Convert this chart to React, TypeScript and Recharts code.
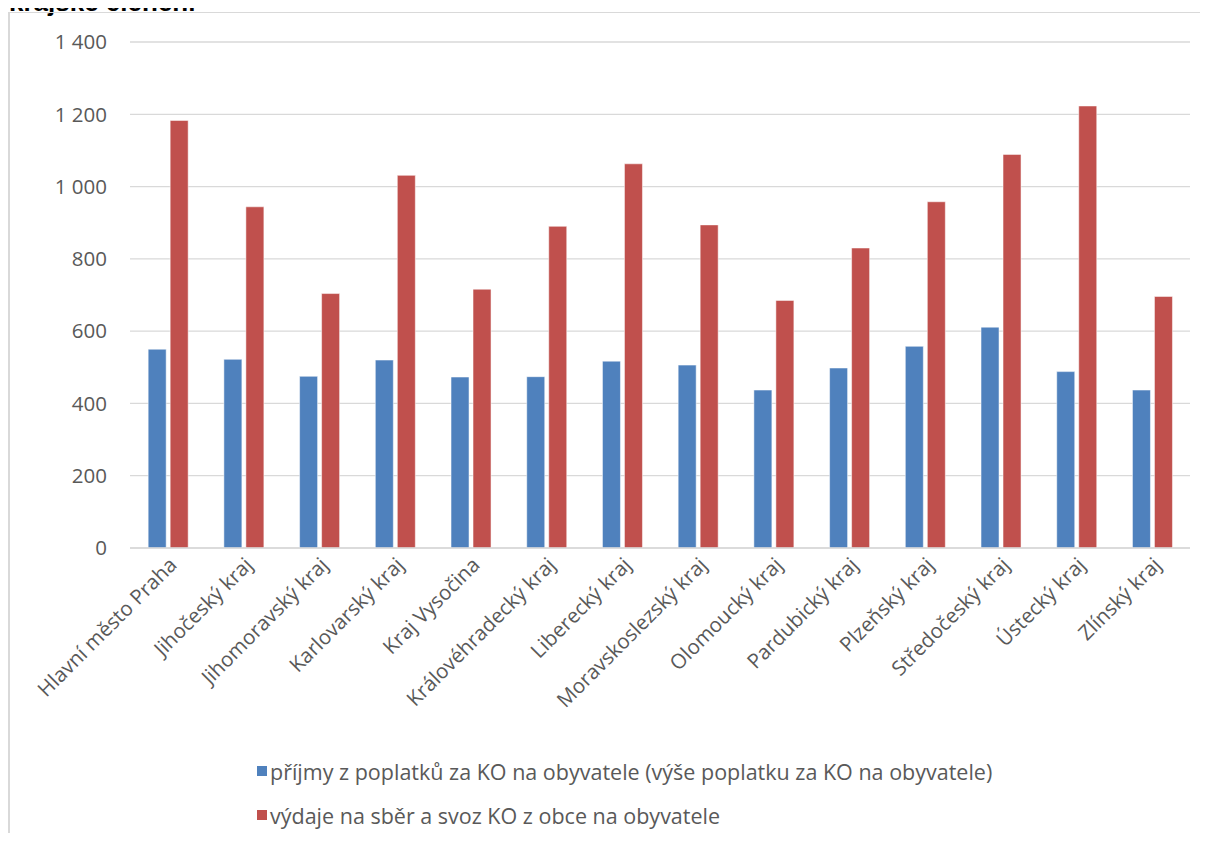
import { BarChart, Bar, XAxis, YAxis, CartesianGrid, Legend } from 'recharts'

const regions = [
  'Hlavní město Praha',
  'Jihočeský kraj',
  'Jihomoravský kraj',
  'Karlovarský kraj',
  'Kraj Vysočina',
  'Královéhradecký kraj',
  'Liberecký kraj',
  'Moravskoslezský kraj',
  'Olomoucký kraj',
  'Pardubický kraj',
  'Plzeňský kraj',
  'Středočeský kraj',
  'Ústecký kraj',
  'Zlínský kraj',
]

const prijmy = [550, 522, 475, 520, 473, 474, 517, 506, 437, 498, 558, 611, 488, 437]
const vydaje = [1183, 944, 704, 1031, 716, 890, 1063, 894, 685, 830, 958, 1089, 1223, 696]

const yTicks = [0, 200, 400, 600, 800, 1000, 1200, 1400]

const seriesNames = {
  prijmy: 'příjmy z poplatků za KO na obyvatele (výše poplatku za KO na obyvatele)',
  vydaje: 'výdaje na sběr a svoz KO z obce na obyvatele',
}

const BLUE = '#4F81BD'
const RED = '#C0504D'
const FONT = '"Open Sans", Lato, sans-serif'
const FS = 20.5

const data = regions.map((name, i) => ({ name, prijmy: prijmy[i], vydaje: vydaje[i] }))

const fmt = (v: number) => (v >= 1000 ? `${Math.floor(v / 1000)} ${String(v % 1000).padStart(3, '0')}` : String(v))

function XTick({ x, y, payload }: any) {
  return (
    <g transform={`translate(${x + 6},${y + 6})`}>
      <text x={0} y={0} dy={6} textAnchor="end" transform="rotate(-45)" fill="#595959" fontSize={FS} fontFamily={FONT}>
        {payload.value}
      </text>
    </g>
  )
}

function LegendBox() {
  const rows = [
    { key: 'prijmy', color: BLUE },
    { key: 'vydaje', color: RED },
  ]
  return (
    <div style={{ fontFamily: FONT, fontSize: 21.5, color: '#595959' }}>
      {rows.map((r) => (
        <div key={r.key} style={{ display: 'flex', alignItems: 'center', height: 44 }}>
          <span style={{ width: 10, height: 10, background: r.color, marginRight: 3, display: 'inline-block' }} />
          <span>{seriesNames[r.key as 'prijmy' | 'vydaje']}</span>
        </div>
      ))}
    </div>
  )
}

export default function App() {
  return (
    <div style={{ position: 'relative', width: 1208, height: 841, margin: -8, overflow: 'hidden', background: '#fff' }}>
      <div
        style={{
          position: 'absolute',
          left: 9,
          top: -13,
          fontFamily: '"Liberation Sans", Arial, sans-serif',
          fontWeight: 'bold',
          fontSize: 26,
          color: '#000',
          whiteSpace: 'nowrap',
        }}
      >
        krajské členění
      </div>
      <div
        style={{
          position: 'absolute',
          left: 8,
          top: 12,
          width: 1220,
          height: 860,
          borderTop: '1px solid #d9d9d9',
          borderLeft: '2px solid #d9d9d9',
        }}
      />
      <div style={{ position: 'absolute', left: 0, top: 0 }}>
        <BarChart
          width={1208}
          height={841}
          data={data}
          margin={{ top: 42, right: 18, bottom: 0, left: 0 }}
          barCategoryGap="24%"
          barGap={4}
        >
          <CartesianGrid vertical={false} stroke="#d9d9d9" strokeWidth={1.3} />
          <XAxis
            dataKey="name"
            interval={0}
            height={293}
            tick={<XTick />}
            tickLine={false}
            axisLine={{ stroke: '#d9d9d9', strokeWidth: 1.3 }}
          />
          <YAxis
            width={130}
            domain={[0, 1400]}
            ticks={yTicks}
            tickFormatter={fmt}
            axisLine={false}
            tickLine={false}
            tickSize={0}
            tickMargin={23}
            tick={{ fill: '#595959', fontSize: FS, fontFamily: FONT }}
          />
          <Legend
            layout="horizontal"
            verticalAlign="middle"
            align="center"
            content={<LegendBox />}
            wrapperStyle={{ position: 'absolute', left: 257, top: 749, width: 900, height: 90 }}
          />
          <Bar dataKey="prijmy" name={seriesNames.prijmy} fill={BLUE} stroke="#ffffff" strokeOpacity={0.5} isAnimationActive={false} />
          <Bar dataKey="vydaje" name={seriesNames.vydaje} fill={RED} stroke="#ffffff" strokeOpacity={0.5} isAnimationActive={false} />
        </BarChart>
      </div>
    </div>
  )
}
